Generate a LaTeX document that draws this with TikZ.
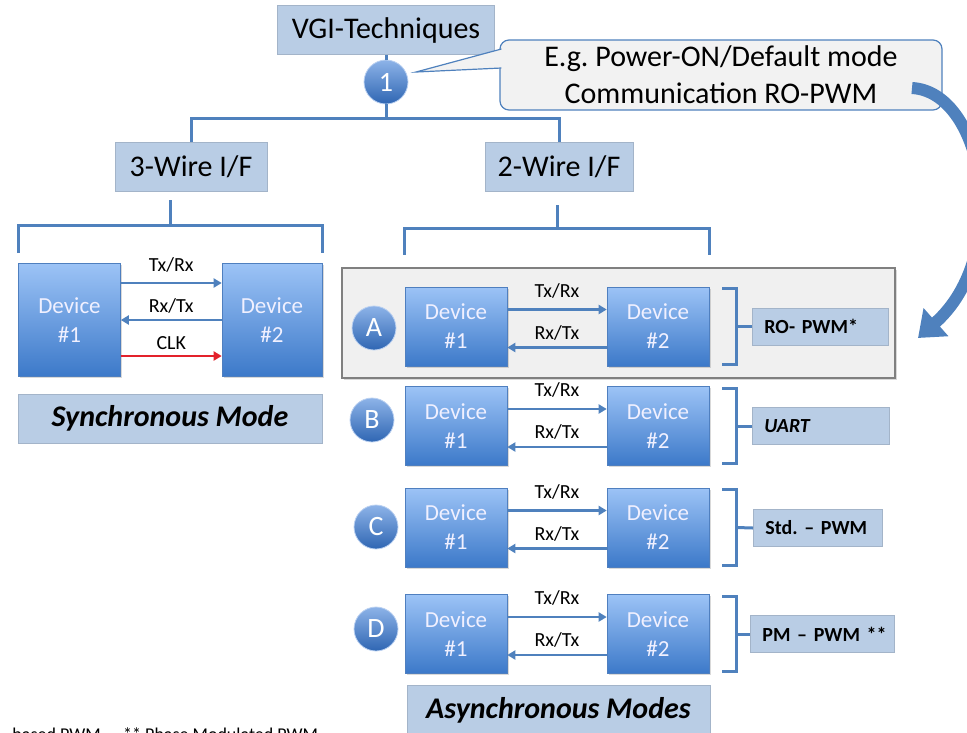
\documentclass[tikz,border=0pt]{standalone}
\usepackage{fontspec}
\setmainfont{Carlito}
\usetikzlibrary{arrows.meta,shadows}
\definecolor{boxblue}{HTML}{B9CDE5}
\definecolor{boxedge}{HTML}{A3B4C9}
\definecolor{wireblue}{HTML}{4F81BD}
\definecolor{devtop}{HTML}{9CC3F6}
\definecolor{devbot}{HTML}{3C79C9}
\definecolor{devedge}{HTML}{4F7FBF}
\definecolor{balltop}{HTML}{8DB3E8}
\definecolor{ballbot}{HTML}{2F66B3}
\definecolor{clkred}{HTML}{E3222B}
\definecolor{panelgray}{HTML}{F0F0F0}
\definecolor{notegray}{HTML}{F2F2F2}
\frenchspacing
\begin{document}
\begin{tikzpicture}[x=1pt, y=-1pt,
  every node/.style={font=\fontsize{30}{37}\selectfont},
  lbox/.style={draw=boxedge, fill=boxblue, line width=0.8pt, inner sep=0pt},
  dev/.style={draw=devedge, line width=0.6pt, top color=devtop, bottom color=devbot,
    minimum width=102pt, minimum height=79pt, inner sep=0pt, align=center, text=white!94!blue,
    font=\fontsize{23}{29}\selectfont,
    drop shadow={opacity=0.3, shadow xshift=1.5pt, shadow yshift=-1.5pt}},
  ball/.style={circle, draw=balltop!60!white, line width=0.8pt, top color=balltop, bottom color=ballbot,
    minimum size=44pt, inner sep=0pt, text=white, font=\fontsize{28}{28}\selectfont},
  tree/.style={draw=wireblue, line width=3pt},
  sig/.style={draw=wireblue, line width=2.5pt, -{Triangle[length=8pt,width=9pt]}},
  lab/.style={font=\fontsize{20}{20}\selectfont, inner sep=0pt},
  modebox/.style={lbox, anchor=west, minimum height=37pt, inner xsep=12pt, align=left,
    font=\fontsize{20}{20}\selectfont\bfseries},
  panel/.style={draw=gray, fill=panelgray, line width=1.2pt, minimum width=553pt, minimum height=110pt,
    drop shadow={opacity=0.3, shadow xshift=2pt, shadow yshift=-2pt}},
  note/.style={draw=wireblue, fill=notegray, line width=1.2pt, rounded corners=9pt,
    minimum width=442pt, minimum height=70pt, align=center},
  bigarrow/.style={draw=wireblue, line width=12pt, -{Triangle[length=24pt,width=36pt]}}]

\clip (0,0) rectangle (967,732); % page

% tree head
\node[lbox, minimum width=217pt, minimum height=49pt] (vgi) at (386,30) {VGI-Techniques};
\node[ball] (one) at (386,82) {1};
\node[lbox, minimum width=152pt, minimum height=49pt] (wire3) at (191,166.5) {3-Wire I/F};
\node[lbox, minimum width=148pt, minimum height=49pt] (wire2) at (559,166.5) {2-Wire I/F};
\coordinate (topbar) at (386,118);
\draw[tree] (vgi) -- (one);
\draw[tree] (one) -- (topbar);
\draw[tree] (wire3.north) |- (topbar) -| (wire2.north);

% note on the default mode
\node[note] (note) at (721,75) {E.g. Power-ON/Default mode\\Communication RO-PWM};
\coordinate (tip) at (416,72);
\fill[notegray] (tip) -- ([xshift=2pt,yshift=26pt]note.west) -- ([xshift=2pt,yshift=7pt]note.west) -- cycle;
\draw[wireblue, line width=1.2pt] ([xshift=2pt,yshift=26pt]note.west) -- (tip) -- ([xshift=2pt,yshift=7pt]note.west);

% synchronous side
\node[dev, minimum height=113pt] (s1) at (69.5,320) {Device\\\#1};
\node[dev, minimum width=100pt, minimum height=113pt] (s2) at (272,320) {Device\\\#2};
\coordinate (sdrop) at (170,200);
\coordinate (sbar) at (170,225);
\draw[tree] (sdrop) -- (sbar);
\draw[tree] ([yshift=10pt]s1.north west) |- (sbar) -| ([yshift=10pt]s2.north east);
\draw[sig] ([yshift=37pt]s1.east) -- node[lab, yshift=18pt] {Tx/Rx} ([yshift=37pt]s2.west);
\draw[sig] (s2.west) -- node[lab, yshift=14pt] {Rx/Tx} (s1.east);
\draw[sig, draw=clkred] ([yshift=-36pt]s1.east) -- node[lab, yshift=13pt] {CLK} ([yshift=-36pt]s2.west);
\node[lbox, minimum width=304pt, minimum height=49pt, font=\fontsize{30}{30}\selectfont\bfseries\itshape] (sync) at (170,418.5) {Synchronous Mode};

% asynchronous side
\node[panel] (pa) at (618.5,323) {};
\node[dev] (a1) at (456,326.5) {Device\\\#1};
\node[dev] (a2) at (658,326.5) {Device\\\#2};
\node[dev] (b1) at (456,426) {Device\\\#1};
\node[dev] (b2) at (658,426) {Device\\\#2};
\node[dev] (c1) at (456,527.5) {Device\\\#1};
\node[dev] (c2) at (658,527.5) {Device\\\#2};
\node[dev] (d1) at (456,634) {Device\\\#1};
\node[dev] (d2) at (658,634) {Device\\\#2};
\node[ball] (ka) at (374,328) {A};
\node[ball] (kb) at (372,420) {B};
\node[ball] (kc) at (376,527) {C};
\node[ball] (kd) at (376,629) {D};
\coordinate (adrop) at (557,205);
\coordinate (abar) at (557,228);
\draw[tree] (adrop) -- (abar);
\draw[tree] ([yshift=32pt]a1.north west) |- (abar) -| ([yshift=32pt]a2.north east);

\draw[sig] ([yshift=17pt]a1.east) -- node[lab, yshift=19pt] {Tx/Rx} ([yshift=17pt]a2.west); % A
\draw[sig] ([yshift=-21pt]a2.west) -- node[lab, yshift=15pt] {Rx/Tx} ([yshift=-21pt]a1.east);
\draw[sig] ([yshift=17pt]b1.east) -- node[lab, yshift=19pt] {Tx/Rx} ([yshift=17pt]b2.west); % B
\draw[sig] ([yshift=-21pt]b2.west) -- node[lab, yshift=15pt] {Rx/Tx} ([yshift=-21pt]b1.east);
\draw[sig] ([yshift=17pt]c1.east) -- node[lab, yshift=19pt] {Tx/Rx} ([yshift=17pt]c2.west); % C
\draw[sig] ([yshift=-21pt]c2.west) -- node[lab, yshift=15pt] {Rx/Tx} ([yshift=-21pt]c1.east);
\draw[sig] ([yshift=17pt]d1.east) -- node[lab, yshift=19pt] {Tx/Rx} ([yshift=17pt]d2.west); % D
\draw[sig] ([yshift=-21pt]d2.west) -- node[lab, yshift=15pt] {Rx/Tx} ([yshift=-21pt]d1.east);

\node[modebox, text width=112pt] (ma) at (752,326.5) {\mbox{RO- PWM*}};
\node[modebox, text width=113pt] (mb) at (752,426) {\itshape UART};
\node[modebox, text width=105pt] (mc) at (753,528) {\mbox{Std. – PWM}};
\node[modebox, text width=120pt] (md) at (750,634) {\mbox{PM – PWM **}};
\draw[tree] ([xshift=13pt,yshift=-2pt]a2.north east) -| ([xshift=27pt]a2.east) |- ([xshift=13pt,yshift=2pt]a2.south east);
\draw[tree] ([xshift=27pt]a2.east) -- (ma.west);
\draw[tree] ([xshift=13pt,yshift=-2pt]b2.north east) -| ([xshift=27pt]b2.east) |- ([xshift=13pt,yshift=2pt]b2.south east);
\draw[tree] ([xshift=27pt]b2.east) -- (mb.west);
\draw[tree] ([xshift=13pt,yshift=-2pt]c2.north east) -| ([xshift=27pt]c2.east) |- ([xshift=13pt,yshift=2pt]c2.south east);
\draw[tree] ([xshift=27pt]c2.east) -- (mc.west);
\draw[tree] ([xshift=13pt,yshift=-2pt]d2.north east) -| ([xshift=27pt]d2.east) |- ([xshift=13pt,yshift=2pt]d2.south east);
\draw[tree] ([xshift=27pt]d2.east) -- (md.west);

\node[lbox, minimum width=303pt, minimum height=50pt, font=\fontsize{30}{30}\selectfont\bfseries\itshape] (asyn) at (558.5,710) {Asynchronous Modes};

% bent arrow from the note to mode A
\coordinate (bendfrom) at (912,88);
\coordinate (bendto) at (918,338);
\draw[bigarrow] (bendfrom) .. controls (985,92) and (1012,255) .. (bendto);

% footnote, cut by the page
\node[lab, anchor=base east, font=\fontsize{18}{18}\selectfont] (foot1) at (101,740) {based PWM};
\node[lab, anchor=base west, font=\fontsize{18}{18}\selectfont] (foot2) at (123,740) {** Phase Modulated PWM};
\end{tikzpicture}
\end{document}
